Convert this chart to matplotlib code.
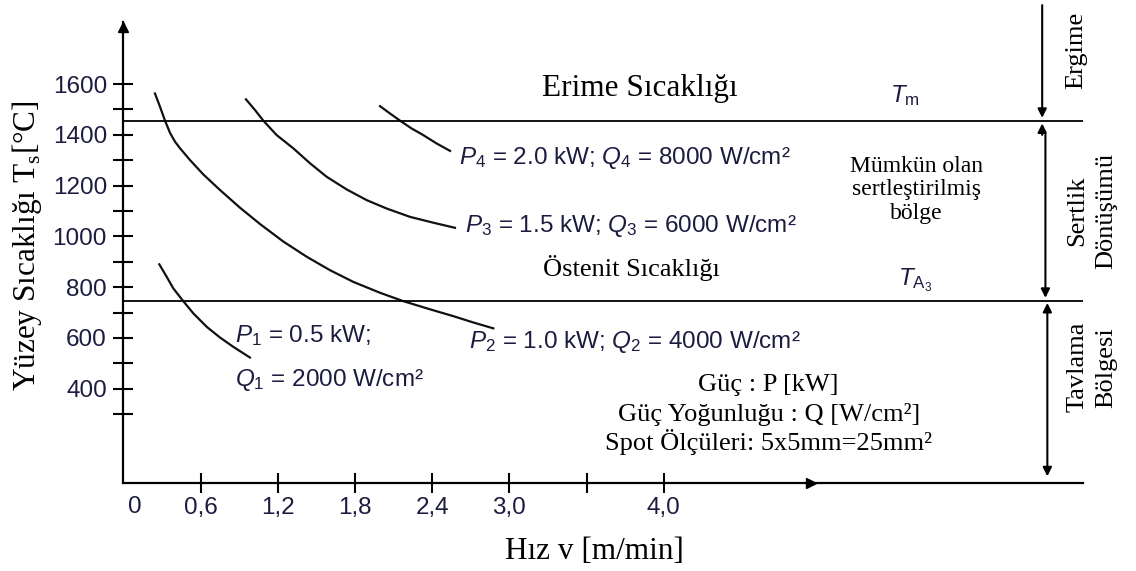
import matplotlib
matplotlib.use("Agg")
import matplotlib.pyplot as plt

# speed v [m/min] vs surface temperature Ts [C]
v_p1 = [0.280, 0.337, 0.389, 0.466, 0.544, 0.648, 0.751, 0.855, 0.984]
t_p1 = [890, 841, 795, 745, 697, 644, 602, 565, 523]

v_p2 = [0.246, 0.285, 0.324, 0.363, 0.402, 0.441, 0.518, 0.622, 0.751, 0.907, 1.062,
        1.243, 1.425, 1.606, 1.787, 1.995, 2.176, 2.383, 2.564, 2.720, 2.875]
t_p2 = [1563, 1511, 1456, 1408, 1373, 1347, 1301, 1244, 1183, 1113, 1049,
        980, 920, 867, 821, 778, 745, 713, 686, 661, 638]

v_p3 = [0.953, 1.023, 1.088, 1.192, 1.321, 1.451, 1.580, 1.736, 1.891, 2.046, 2.228, 2.409, 2.577]
t_p3 = [1540, 1498, 1456, 1399, 1347, 1288, 1235, 1185, 1143, 1110, 1077, 1054, 1034]

v_p4 = [1.995, 2.073, 2.150, 2.241, 2.331, 2.435, 2.539]
t_p4 = [1513, 1484, 1456, 1425, 1399, 1366, 1337]

melt_temp = 1455
austenite_temp = 746

x_ticks = [0.6, 1.2, 1.8, 2.4, 3.0, 3.6, 4.2]
x_ticklabels = ["0,6", "1,2", "1,8", "2,4", "3,0", "", "4,0"]
y_major = [400, 600, 800, 1000, 1200, 1400, 1600]
y_minor = [300, 500, 700, 900, 1100, 1300, 1500]

curve_labels = [
    r"$P_1$ = 0.5 kW;",
    r"$Q_1$ = 2000 W/cm²",
    r"$P_2$ = 1.0 kW; $Q_2$ = 4000 W/cm²",
    r"$P_3$ = 1.5 kW; $Q_3$ = 6000 W/cm²",
    r"$P_4$ = 2.0 kW; $Q_4$ = 8000 W/cm²",
]

plt.rcParams["mathtext.fontset"] = "custom"
plt.rcParams["mathtext.rm"] = "Liberation Sans"
plt.rcParams["mathtext.it"] = "Liberation Sans:italic"
plt.rcParams["mathtext.sf"] = "Liberation Serif"

navy = "#1c1c40"
serif = "Liberation Serif"
sans = "Liberation Sans"

fig = plt.figure(figsize=(11.36, 5.71), dpi=100)
ax = fig.add_axes([0.10854, 0.15464, 0.8448, 0.8068])
ax.set_xlim(0, 7.457)
ax.set_ylim(30, 1844.5)

for s in ["top", "right"]:
    ax.spines[s].set_visible(False)
for s in ["left", "bottom"]:
    ax.spines[s].set_linewidth(1.6)

# axis arrows
ax.plot(0, 1844.5 - 20, marker="^", color="k", markersize=7, clip_on=False)
ax.plot(5.34, 30, marker=">", color="k", markersize=7, clip_on=False)

# curves
for vv, tt in [(v_p1, t_p1), (v_p2, t_p2), (v_p3, t_p3), (v_p4, t_p4)]:
    ax.plot(vv, tt, color="#111111", lw=1.6, solid_joinstyle="round")

ax.axhline(melt_temp, color="k", lw=1.3)
ax.axhline(austenite_temp, color="k", lw=1.3)

# ticks
ax.set_xticks(x_ticks)
ax.set_xticklabels(x_ticklabels)
ax.set_yticks(y_major)
ax.set_yticks(y_minor, minor=True)
ax.tick_params(axis="both", which="both", direction="inout", length=15, width=1.5,
               labelsize=17.5, labelcolor=navy)
ax.tick_params(axis="y", which="major", pad=4.3)
ax.tick_params(axis="x", which="major", pad=3)
for lab in ax.get_xticklabels() + ax.get_yticklabels():
    lab.set_fontfamily(sans)
ax.text(0.09, -0.052, "0", transform=ax.get_xaxis_transform(), ha="center", va="center",
        fontsize=17.5, color=navy, family=sans)

ax.set_xlabel("Hız v [m/min]", fontsize=22.5, family=serif, va="center")
ax.xaxis.set_label_coords(0.4905, -0.1498)
ax.set_ylabel("Yüzey Sıcaklığı T$_\\mathsf{s}$[°C]", fontsize=22.5, family=serif, va="center")
ax.yaxis.set_label_coords(-0.1000, 0.514)

# curve labels
ax.text(0.868, 611, curve_labels[0], fontsize=17.5, color=navy, family=sans, va="center")
ax.text(0.868, 434, curve_labels[1], fontsize=17.5, color=navy, family=sans, va="center")
ax.text(2.686, 584, curve_labels[2], fontsize=17.5, color=navy, family=sans, va="center")
ax.text(2.655, 1041, curve_labels[3], fontsize=17.5, color=navy, family=sans, va="center")
ax.text(2.611, 1309, curve_labels[4], fontsize=17.5, color=navy, family=sans, va="center")

ax.text(4.014, 1584, "Erime Sıcaklığı", fontsize=22.5, family=serif, ha="center", va="center")
ax.text(3.945, 875, "Östenit Sıcaklığı", fontsize=19, family=serif, ha="center", va="center")
ax.text(6.074, 1553, r"$T_\mathrm{m}$", fontsize=17.5, color=navy, ha="center", va="center")
ax.text(6.151, 828, r"$T_{\mathrm{A}_3}$", fontsize=17.5, color=navy, ha="center", va="center")
ax.text(6.164, 1183, "Mümkün olan\nsertleştirilmiş\nbölge", fontsize=17, family=serif,
        ha="center", va="center", linespacing=1.15)

ax.text(5.015, 414, "Güç : P [kW]", fontsize=19, family=serif, ha="center", va="center")
ax.text(5.015, 300, "Güç Yoğunluğu : Q [W/cm²]", fontsize=19, family=serif, ha="center", va="center")
ax.text(5.015, 190, "Spot Ölçüleri: 5x5mm=25mm²", fontsize=19, family=serif, ha="center", va="center")

# zone arrows on the right
arr = dict(arrowstyle="-|>", color="k", lw=1.5, mutation_scale=13, shrinkA=0, shrinkB=0)
ax.annotate("", xy=(7.14, melt_temp + 12), xytext=(7.14, 1911), arrowprops=arr, annotation_clip=False)
ax.annotate("", xy=(7.14, melt_temp - 10), xytext=(7.14, 1400), arrowprops=arr, annotation_clip=False)
ax.annotate("", xy=(7.165, austenite_temp + 12), xytext=(7.165, 1400), arrowprops=arr, annotation_clip=False)
arr2 = dict(arrowstyle="<|-|>", color="k", lw=1.5, mutation_scale=13, shrinkA=0, shrinkB=0)
ax.annotate("", xy=(7.18, 55), xytext=(7.18, austenite_temp - 8), arrowprops=arr2, annotation_clip=False)

ax.text(7.408, 1734, "Ergime", fontsize=19, family=serif, rotation=90, ha="center", va="center")
ax.text(7.527, 1100, "Sertlik\nDönüşümü", fontsize=19, family=serif, rotation=90,
        ha="center", va="center", linespacing=1.4, multialignment="center")
ax.text(7.527, 485, "Tavlama\nBölgesi", fontsize=19, family=serif, rotation=90,
        ha="center", va="center", linespacing=1.4, multialignment="center")

fig.savefig("out.png", dpi=100)
